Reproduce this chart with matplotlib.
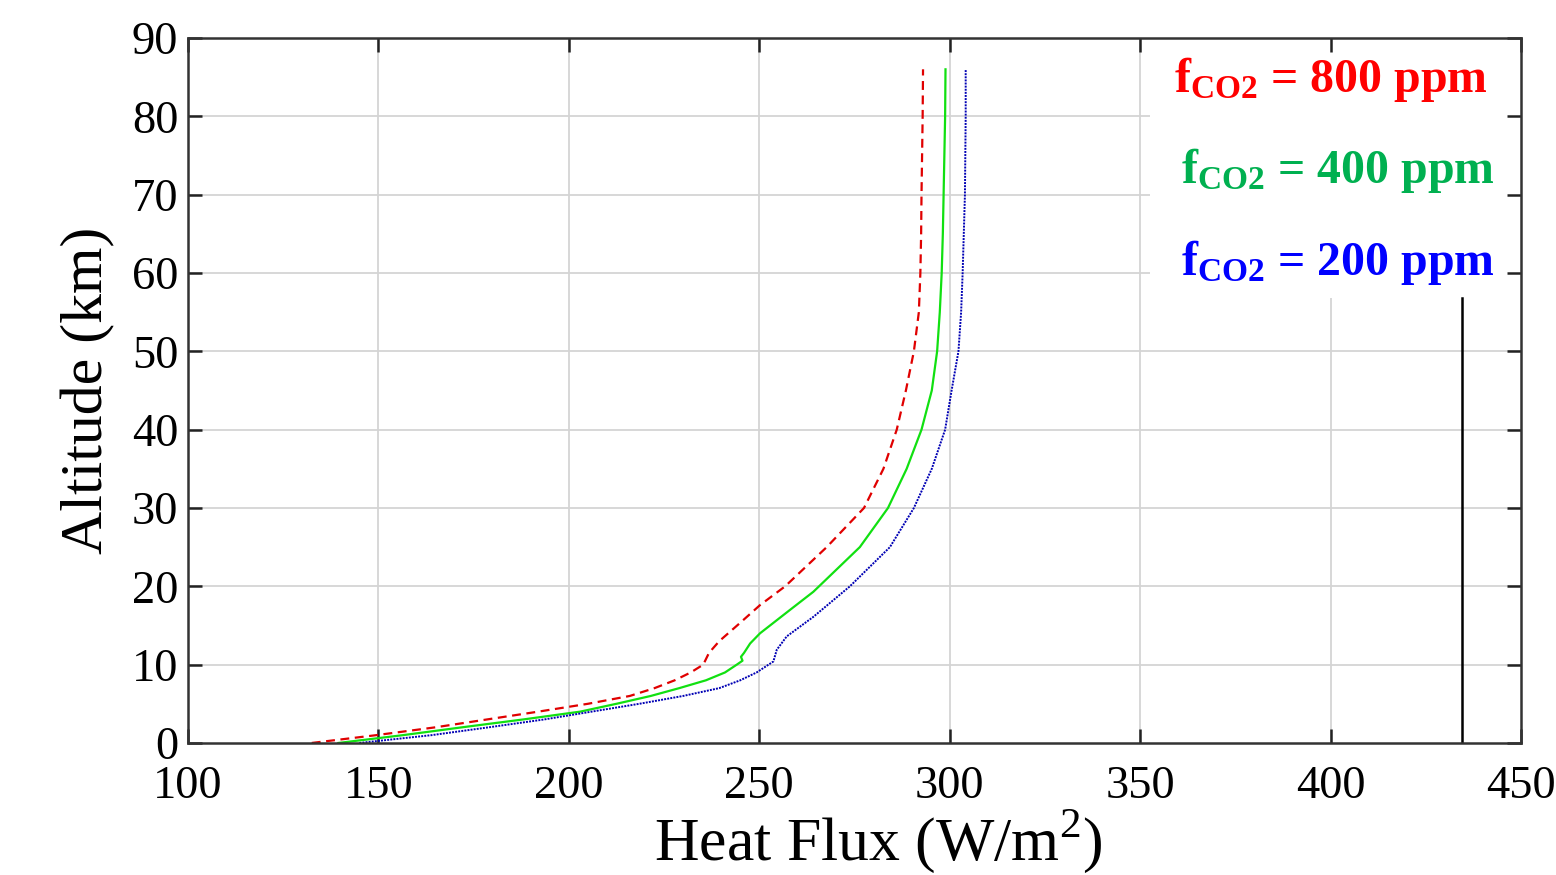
import matplotlib.pyplot as plt
from matplotlib.patches import Rectangle

plt.rcParams['font.family'] = ['Liberation Serif', 'DejaVu Serif']
plt.rcParams['mathtext.fontset'] = 'custom'
plt.rcParams['mathtext.rm'] = 'Liberation Serif'
plt.rcParams['mathtext.bf'] = 'Liberation Serif:bold'

# altitude (km) and heat flux (W/m2)
alt_800 = [0, 1, 2, 3, 4, 5, 6, 7, 8, 9, 10, 11.5, 13, 15.3, 17.6, 20, 25, 30, 35, 40, 45, 50, 55,
           60, 65, 70, 80, 86]
flux_800 = [132.5, 149.5, 165, 178.5, 192, 205, 216, 222.5, 227.8, 232, 235.3, 236.8, 239.5, 244.9,
            250.2, 256.8, 267.7, 277.5, 282.6, 286.1, 288.5, 290.6, 291.9, 292.3, 292.5, 292.6, 292.9, 293.0]

alt_400 = [0, 1, 2, 3, 4, 5, 6, 7, 8, 9, 10, 10.5, 11, 11.5, 12.7, 14, 17, 19.3, 25, 30, 35, 40, 45,
           50, 55, 60, 65, 70, 80, 86]
flux_400 = [139.5, 156.5, 172, 188, 203, 212.5, 221.5, 229, 236, 241, 244.1, 245.6, 245.2, 246, 247.6,
            250.2, 258.1, 264.2, 276.4, 283.8, 288.7, 292.6, 295.3, 296.7, 297.4, 297.9, 298.2, 298.4,
            298.8, 298.9]

alt_200 = [0, 1, 2, 3, 4, 5, 6, 7, 8, 9, 10.4, 11.9, 13.6, 16.1, 20, 25, 30, 35, 40, 45, 50, 55, 60,
           65, 70, 80, 86]
flux_200 = [145, 164, 179, 193.5, 206, 218.5, 230, 239.5, 245, 249.3, 253.7, 254.6, 257.2, 264.2,
            273.8, 284.3, 290.6, 295.3, 298.8, 300.5, 302.3, 303, 303.4, 303.7, 304, 304.2, 304.2]

labels = ['800', '400', '200']
text_colors = ['#ff0000', '#00b050', '#0000ff']

xticks = [100, 150, 200, 250, 300, 350, 400, 450]
yticks = [0, 10, 20, 30, 40, 50, 60, 70, 80, 90]

# stray vertical line present in the original figure
stray_x = 434.5
stray_top = 56.8

fig = plt.figure(figsize=(15.56, 8.75), dpi=100)
ax = fig.add_axes([0.1208, 0.1509, 0.8567, 0.8057])

# grid drawn by hand so the legend box can hide part of it
for v in xticks[1:-1]:
    ax.axvline(v, color='#d4d4d4', lw=1.3, zorder=0.5)
for v in yticks[1:-1]:
    ax.axhline(v, color='#d4d4d4', lw=1.3, zorder=0.5)
ax.add_patch(Rectangle((352.5, 56.8), 450 - 352.5, 90 - 56.8, facecolor='white',
                       edgecolor='none', zorder=1))

ax.plot(flux_800, alt_800, color='#e00000', linestyle=(0, (4, 2.5)), lw=1.6, zorder=2)
ax.plot(flux_400, alt_400, color='#11e011', linestyle='-', lw=1.6, zorder=2)
ax.plot(flux_200, alt_200, color='#0000b4', linestyle=(0, (1, 0.6)), lw=1.4, zorder=2)
ax.plot([stray_x, stray_x], [0, stray_top], color='black', lw=1.8, zorder=2)

ax.set_xlim(100, 450)
ax.set_ylim(0, 90)
ax.set_xticks(xticks)
ax.set_yticks(yticks)
ax.tick_params(direction='in', length=10, width=1.8, top=True, right=True,
               labelsize=33.5, color='#222222')
ax.tick_params(axis='x', pad=16)
ax.tick_params(axis='y', pad=7)
for s in ax.spines.values():
    s.set_color('#333333')
    s.set_linewidth(1.8)

ax.set_xlabel('Heat Flux (W/m$^2$)', fontsize=44.5)
ax.xaxis.set_label_coords(0.518, -0.091)
ax.set_ylabel('Altitude (km)', fontsize=43, labelpad=12)

ys = [0.923, 0.794, 0.664]
xs = [0.740, 0.745, 0.745]
for lab, c, x, y in zip(labels, text_colors, xs, ys):
    ax.text(x, y, r'$\mathbf{f_{CO2}}$ = ' + lab + ' ppm', transform=ax.transAxes,
            color=c, fontsize=34.5, fontweight='bold', va='baseline', ha='left', zorder=3)

fig.savefig('out.png', dpi=100)
